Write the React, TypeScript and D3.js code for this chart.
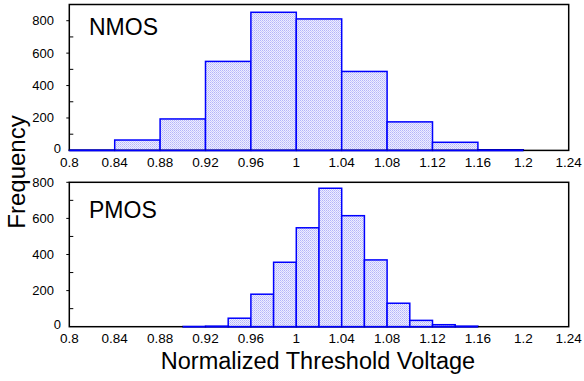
import React from "react";
import * as d3 from "d3";

const xTicks = [0.8, 0.84, 0.88, 0.92, 0.96, 1.0, 1.04, 1.08, 1.12, 1.16, 1.2, 1.24];
const xTickLabels = ["0.8", "0.84", "0.88", "0.92", "0.96", "1", "1.04", "1.08", "1.12", "1.16", "1.2", "1.24"];
const yTicks = [0, 200, 400, 600, 800];

const nmosBinStarts = [0.8, 0.84, 0.88, 0.92, 0.96, 1.0, 1.04, 1.08, 1.12, 1.16];
const nmosCounts = [2, 64, 194, 549, 852, 811, 487, 176, 50, 4];
const nmosBinWidth = 0.04;

const pmosBinStarts = [0.9, 0.92, 0.94, 0.96, 0.98, 1.0, 1.02, 1.04, 1.06, 1.08, 1.1, 1.12, 1.14];
const pmosCounts = [1, 3, 47, 180, 357, 548, 767, 615, 370, 130, 35, 11, 3];
const pmosBinWidth = 0.02;

const W = 584;
const H = 381;
const left = 69.3;
const right = 568.7;

type PanelProps = {
  top: number;
  bottom: number;
  yMax: number;
  starts: number[];
  counts: number[];
  binWidth: number;
  label: string;
  labelY: number;
};

function Panel({ top, bottom, yMax, starts, counts, binWidth, label, labelY }: PanelProps) {
  const x = d3.scaleLinear().domain([0.8, 1.24]).range([left, right]);
  const y = d3.scaleLinear().domain([0, yMax]).range([bottom, top]);
  const minor = d3.range(100, yMax, 200);
  const font = "'Liberation Sans', Arial, Helvetica, sans-serif";
  return (
    <g>
      {starts.map((s, i) => (
        <rect
          key={i}
          x={x(s)}
          y={y(counts[i])}
          width={x(s + binWidth) - x(s)}
          height={bottom - y(counts[i])}
          fill="url(#dots)"
          stroke="#0000ff"
          strokeWidth={1.5}
        />
      ))}
      <rect x={left} y={top} width={right - left} height={bottom - top} fill="none" stroke="#000" strokeWidth={1.5} />
      {starts.map((s, i) => (
        <line key={"b" + i} x1={x(s)} x2={x(s + binWidth)} y1={bottom} y2={bottom} stroke="#0000ff" strokeWidth={1.5} />
      ))}
      {minor.map((v) => (
        <line key={"m" + v} x1={left} x2={left + 4} y1={y(v)} y2={y(v)} stroke="#000" strokeWidth={1} />
      ))}
      {yTicks.filter((v) => v > 0 && v <= yMax).map((v) => (
        <line key={"t" + v} x1={left - 3} x2={left} y1={y(v)} y2={y(v)} stroke="#000" strokeWidth={1} />
      ))}
      {yTicks.filter((v) => v <= yMax).map((v) =>
        v === 0 ? (
          <text key={"yl" + v} x={61} y={bottom + 2.5} textAnchor="end" fontFamily={font} fontSize={13} fill="#000">
            0
          </text>
        ) : (
          <text key={"yl" + v} x={54} y={y(v) + 4.5} textAnchor="end" fontFamily={font} fontSize={13} fill="#000">
            {v}
          </text>
        )
      )}
      {xTicks.map((t, i) => (
        <text key={"xl" + i} x={x(t)} y={bottom + 16.5} textAnchor="middle" fontFamily={font} fontSize={13.5} fill="#000">
          {xTickLabels[i]}
        </text>
      ))}
      <text x={89} y={labelY} fontFamily={font} fontSize={23} fill="#000">
        {label}
      </text>
    </g>
  );
}

export default function App() {
  const font = "'Liberation Sans', Arial, Helvetica, sans-serif";
  return (
    <svg width={W} height={H} style={{ position: "absolute", left: 0, top: 0, background: "#fff" }}>
      <defs>
        <pattern id="dots" width={2} height={2} patternUnits="userSpaceOnUse">
          <rect width={2} height={2} fill="#eeeeff" />
          <rect x={0} y={0} width={1} height={1} fill="#b4b4fa" />
          <rect x={1} y={1} width={1} height={1} fill="#c8c8fc" />
        </pattern>
      </defs>
      <rect width={W} height={H} fill="#fff" />
      <Panel top={4.5} bottom={150.4} yMax={900} starts={nmosBinStarts} counts={nmosCounts} binWidth={nmosBinWidth} label="NMOS" labelY={35} />
      <Panel top={182.3} bottom={326.7} yMax={800} starts={pmosBinStarts} counts={pmosCounts} binWidth={pmosBinWidth} label="PMOS" labelY={217.5} />
      <text
        transform={`translate(25,172) rotate(-90)`}
        textAnchor="middle"
        fontFamily={font}
        fontSize={24}
        fill="#000"
      >
        Frequency
      </text>
      <text x={318} y={368.5} textAnchor="middle" fontFamily={font} fontSize={23.5} fill="#000">
        Normalized Threshold Voltage
      </text>
    </svg>
  );
}
